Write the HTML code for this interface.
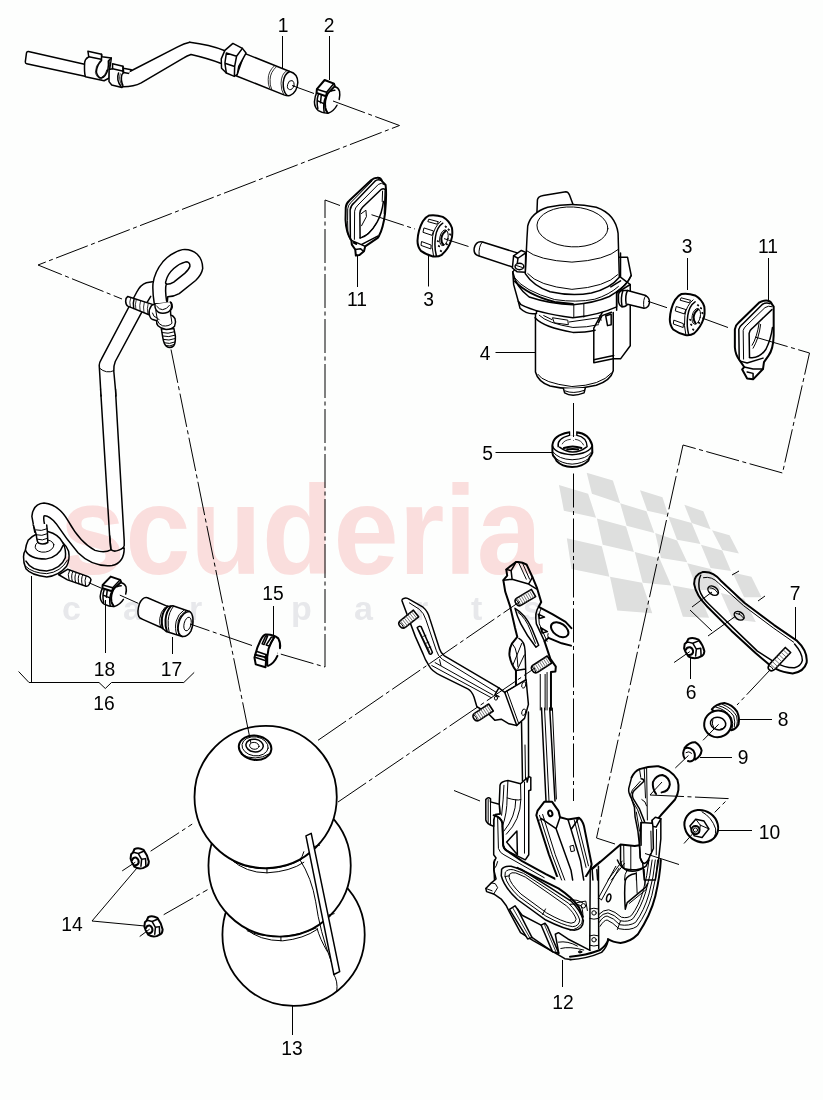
<!DOCTYPE html>
<html lang="en">
<head>
<meta charset="utf-8">
<title>Vacuum pump - parts diagram</title>
<style>
html,body{margin:0;padding:0;background:#fdfefd;}
body{width:823px;height:1100px;overflow:hidden;font-family:"Liberation Sans",sans-serif;}
svg{display:block;position:absolute;left:0;top:0;}
svg path,svg line,svg ellipse,svg circle,svg polyline,svg polygon,svg rect{vector-effect:non-scaling-stroke;fill:none;stroke:#000;stroke-width:1.5;stroke-linecap:round;stroke-linejoin:round;}
svg .w{fill:#fff;}
svg .t{stroke-width:1;}
svg .tt{stroke-width:0.8;}
svg .b{stroke-width:2;}
svg .k{fill:#000;}
svg .ld{stroke-width:1;stroke-linecap:butt;}
svg .dd{stroke-width:1;stroke-dasharray:34 3.5 4 3.5;stroke-linecap:butt;}
svg .flag polygon{fill:#e0e0e0;stroke:none;}
svg text.n{font-family:"Liberation Sans",sans-serif;font-size:20.5px;fill:#000;text-anchor:middle;}
svg text.wm{font-family:"Liberation Sans",sans-serif;font-weight:bold;font-size:126px;fill:#fcdfdf;}
svg text.cp{font-family:"Liberation Sans",sans-serif;font-weight:bold;font-size:34px;fill:#e9e9ed;}
</style>
</head>
<body>
<svg width="823" height="1100" viewBox="0 0 823 1100">
<!-- PARTS -->
<g id="parts">
<defs>
<g id="stud">
<path class="w" style="stroke-width:1.6" d="M0,-4.2 L17,-4.2 Q20.5,-4 20.5,0 Q20.5,4 17,4.2 L0,4.2 Z"/>
<path class="tt" style="stroke:#555" d="M2.4,-4 L2.4,4 M4.8,-4 L4.8,4 M7.2,-4 L7.2,4 M9.6,-4 L9.6,4 M12,-4 L12,4 M14.4,-4 L14.4,4 M16.8,-4 L16.8,4"/>
<path class="t" d="M18.4,-3.6 Q17.2,0 18.4,3.6"/>
</g>
</defs>
<!-- part 1: hose -->
<g transform="translate(76 44) scale(0.085055)">
<!-- hose left -->
<path class="w" d="M100,238 L-560,88 Q-578,86 -582,104 L-596,210 Q-597,228 -580,232 L105,378"/>
<!-- hose after clips -->
<path class="w" d="M640,338 L823,250 L823,418 Q700,485 560,492 Z" style="stroke:none"/>
<path d="M640,338 L823,250 M823,418 Q700,485 560,492"/>
<!-- clip 1 -->
<path class="w" d="M140,84 L300,120 L305,150 L415,165 L410,205 L395,300 L390,400 L330,432 L110,385 Q95,330 102,215 Q112,170 150,150 Z"/>
<path d="M150,150 L295,180 M300,120 L300,195 Q240,260 240,330 Q255,395 300,400 Q350,385 375,300 Q385,240 380,200 L415,165"/>
<path class="tt" d="M285,195 Q225,260 228,335 Q245,405 300,412 M362,305 Q345,370 305,388 M392,190 Q398,240 390,300"/>
<!-- clip 2 -->
<path class="w" d="M430,232 L552,262 L556,285 L650,302 L655,330 L625,347 L560,335 L540,360 Q520,420 555,495 L540,512 L420,482 L388,442 L390,300 L430,292 Z"/>
<path d="M430,292 L545,318 M552,262 L550,330 M500,340 Q470,420 530,500 M556,285 L560,335"/>
<path class="tt" d="M520,350 Q495,420 545,490"/>
</g>
<g transform="translate(10 10) scale(0.243)">
<path class="w" style="stroke:none" d="M495,252 L690,152 Q716,138 740,133 L745,183 Q728,188 715,197 L540,300 Q510,316 465,316 Z"/>
<path d="M495,252 L690,152 Q716,138 740,133 M745,183 Q728,188 715,197 L540,300 Q510,316 465,316"/>
</g>
<g transform="translate(195 30) scale(0.14582)">
<path class="w" style="stroke:none" d="M-36,84 Q100,100 205,142 L175,228 Q90,195 -27,168 Z"/>
<path d="M-36,84 Q100,100 205,142 M175,228 Q90,195 -27,168"/>
<!-- cylinder body -->
<path class="w" d="M340,160 L650,285 Q705,300 705,360 Q700,430 650,450 Q630,452 610,445 L285,315 Z"/>
<path d="M650,285 Q612,300 605,360 Q602,420 630,448"/>
<path class="tt" d="M628,280 Q592,300 590,365 Q590,415 608,442 M560,250 Q515,290 515,340 Q512,380 525,405 M545,245 Q500,285 502,340 Q500,375 512,398"/>
<ellipse class="w t" cx="657" cy="378" rx="22" ry="32" transform="rotate(15 657 378)"/>
<!-- hex nut -->
<path class="w" d="M205,140 L260,92 L325,126 L350,158 L300,250 L290,305 L270,318 L215,295 L182,262 L180,198 Z"/>
<path d="M215,158 L285,180 L325,126 M285,180 L272,250 L205,228 M272,250 L270,318 M215,158 L205,228 L215,295"/>
</g>
<!-- part 2: clamp -->
<g transform="translate(295 62) scale(0.09720)">
<g id="clamp">
<path class="w" style="stroke:none" d="M410,255 Q445,262 458,300 Q468,350 452,392 L430,445 Q400,505 340,528 Q290,530 240,500 Q200,470 200,410 Q205,350 222,318 Z"/>
<path d="M410,255 Q445,262 458,300 Q466,345 455,385 M432,445 Q400,505 340,528 Q290,530 240,500 Q200,470 200,410 Q205,350 222,318"/>
<path class="w b" d="M225,280 L305,185 L400,222 L410,248 L335,325 L318,352 L222,318 Z"/>
<path d="M225,280 L325,312 L400,222 M325,312 L318,352"/>
<path class="b" d="M335,325 Q300,400 312,470 Q318,500 335,522"/>
<path d="M318,352 Q285,420 300,520 M240,335 Q218,400 235,480 M270,345 L262,420 M235,400 L290,425 M410,290 Q385,290 370,300"/>
</g>
</g>
<!-- part 11 left grommet -->
<g transform="translate(320 165) scale(0.12151)">
<path class="w b" d="M470,105 Q500,100 512,135 L540,165 Q550,250 535,400 Q520,520 485,585 L475,600 L372,670 L362,710 L325,740 L295,745 L290,695 L262,655 L258,620 Q215,560 210,450 L212,350 Q215,315 240,295 L420,125 Q445,105 470,105 Z"/>
<path d="M250,612 L248,370 Q252,335 280,312 L450,135 Q475,112 505,128"/>
<path class="t" d="M283,612 L285,380 Q288,352 312,330 L480,160 Q505,140 528,160"/>
<path class="t" d="M230,570 Q225,450 228,360 Q232,328 255,308 L430,130"/>
<path d="M330,600 L328,395 Q330,368 350,348 L505,200 Q520,190 535,200"/>
<path d="M330,600 Q400,590 470,470 Q510,400 522,300"/>
<path class="t" d="M340,400 L378,372 L382,425 L342,500 M350,590 Q410,570 465,480 M535,200 L528,400 M515,215 L512,300"/>
<path d="M258,620 L340,655 L372,670 M340,655 L475,585 M290,695 L335,690 L355,708 M275,640 L300,652"/>
</g>
<!-- part 3 left nut -->
<g transform="translate(400 195) scale(0.09720)">
<g id="nut3">
<path class="w b" d="M300,210 Q370,200 440,225 Q510,265 535,340 Q545,420 525,470 Q500,550 430,615 Q390,640 340,632 Q270,615 215,575 Q180,530 180,470 Q185,360 235,270 Q265,225 300,210 Z"/>
<path d="M440,290 Q380,330 365,430 Q350,540 375,630"/>
<path class="t" d="M420,270 Q350,330 335,430 Q322,540 345,630"/>
<ellipse class="t" cx="452" cy="440" rx="42" ry="82" transform="rotate(12 452 440)"/>
<path class="b" d="M470,370 Q430,400 425,450 Q425,490 445,510"/>
<path class="t" d="M250,340 L345,370 L330,415 L240,385 Z M225,480 L320,515 L318,555 L220,520 Z M300,250 L395,275 L380,300 L290,275 Z"/>
<path class="k t" d="M470,320 l8,4 l-3,10 l-8,-4z M500,350 l8,4 l-3,10 l-8,-4z M515,400 l8,4 l-3,10 l-8,-4z M400,520 l8,4 l-3,10 l-8,-4z M420,570 l8,4 l-3,10 l-8,-4z M480,500 l8,4 l-3,10 l-8,-4z M390,470 l6,3 l-3,10 l-6,-3z"/>
</g>
</g>
<!-- part 4 pump -->
<g transform="translate(465 180) scale(0.243)">
<!-- back tab -->
<path class="w" d="M296,135 L298,82 Q300,68 322,64 L415,48 Q425,48 430,62 L445,102 Z"/>
<!-- motor cylinder -->
<path class="w" d="M290,540 L290,790 Q300,830 350,848 Q440,870 540,845 Q600,825 610,785 L610,540 Z"/>
<path class="w" d="M405,858 L410,876 Q440,895 490,876 L495,856"/>
<path class="t" d="M412,868 Q445,882 490,866 M300,800 Q320,835 440,850 Q560,845 602,795"/>
<!-- connector box -->
<path class="w" d="M530,610 L530,752 L610,736 L640,736 L680,682 L680,430 L600,480 Z"/>
<path d="M610,545 L610,736 M530,740 L612,722"/>
</g>
<g transform="translate(500 250) scale(0.18225)">
<!-- motor top -->
<path d="M192,372 Q240,425 400,452 Q470,452 522,440"/>
<path class="t" d="M215,358 Q260,402 400,425 Q480,425 540,410"/>
<path class="t" d="M290,372 L372,385 L375,410 L300,400 Z M240,360 L285,382 M380,395 L540,372 M545,360 L555,385"/>
<path d="M540,400 L560,360 L612,342 M580,362 L610,352 L610,410 L590,415 Z"/>
<!-- left lug -->
<path class="w" d="M100,280 L110,320 Q150,358 200,348 L200,330 Z"/>
<!-- flange -->
<path class="w" d="M70,120 L75,190 L100,280 L115,300 Q200,345 400,372 Q540,358 640,312 L640,230 Q700,190 720,140 L700,40 L140,40 Z"/>
<path d="M70,120 Q85,200 160,258 Q280,298 400,300 Q520,290 600,255 Q690,205 720,140"/>
<path class="b" d="M82,172 Q150,245 300,285 L400,296"/>
<path class="t" d="M78,150 Q130,225 300,272 Q420,290 520,270 Q600,245 650,200 M405,298 L405,370 M460,294 L460,368"/>
<path d="M640,230 L640,330"/>
<!-- right port -->
<path class="w" d="M650,245 Q655,222 675,222 L700,222 L800,250 Q822,262 820,290 Q815,318 790,320 L700,298 Q690,312 670,312 Q652,305 650,280 Z"/>
<path d="M700,222 Q685,250 692,296 M675,222 Q660,260 670,312"/>
<path class="t" d="M800,250 Q782,270 790,320"/>
</g>
<g transform="translate(465 180) scale(0.243)">
<!-- dome -->
<path class="w" d="M248,385 L255,240 L258,190 Q270,135 340,112 Q440,90 540,112 Q620,140 630,220 L635,400 Q600,445 520,465 Q440,480 350,460 Q280,435 248,385 Z"/>
<ellipse class="t" cx="442" cy="193" rx="146" ry="82" transform="rotate(3 442 193)"/>
<path class="t" d="M252,290 Q300,330 440,338 Q580,330 632,285 M258,385 Q300,435 440,450 Q580,440 628,390"/>
<path d="M640,300 L640,400 L660,415 L680,430 M600,440 L640,415"/>
<!-- left port -->
<path class="w" d="M215,300 L72,255 Q45,250 38,280 Q34,305 55,312 L195,358 Z"/>
<path class="t" d="M72,255 Q55,270 58,312"/>
<path class="w" d="M200,312 L232,290 L250,298 L248,380 L215,378 L195,362 Z"/>
<path d="M200,312 L218,322 L250,300 M218,322 L215,345"/>
<ellipse class="w" cx="224" cy="356" rx="18" ry="13"/>
<path class="t" d="M212,352 L236,360"/>
</g>
<!-- part 3 right nut -->
<use href="#nut3" transform="translate(252.3 78.6) translate(400 195) scale(0.09720)"/>
<!-- part 11 right grommet -->
<g transform="translate(660 270) scale(0.19805)">
<path class="w b" d="M545,155 Q560,158 565,172 L574,185 L574,330 Q572,400 548,432 L525,465 L520,500 L470,552 L440,548 L415,502 L425,490 L405,460 Q380,430 378,390 L378,300 Q380,280 395,268 L500,165 Q520,152 545,155 Z"/>
<path d="M400,455 L398,300 Q402,285 415,275 L515,175 Q535,162 555,170"/>
<path class="t" d="M422,450 L420,305 Q424,292 435,282 L530,190 Q548,178 565,185"/>
<path d="M452,442 L450,320 Q452,305 465,295 L565,200"/>
<path d="M452,442 Q500,450 535,400 Q560,350 568,290"/>
<path class="t" d="M500,270 Q490,340 465,380 M508,275 Q500,345 470,395"/>
<path d="M405,460 L440,470 L520,445 M425,490 L470,500 L520,500 M440,515 L470,522 L470,552"/>
</g>
<!-- part 5 seal -->
<g transform="translate(530 410) scale(0.10936)">
<path class="w b" d="M205,320 Q215,230 350,205 L365,203 L365,225 L425,225 L425,203 Q540,215 568,320 L570,390 Q560,420 545,432 L532,465 Q480,518 385,522 Q290,518 245,468 L230,440 Q205,420 205,390 Z" />
<path class="w" style="stroke:none" d="M368,190 L422,190 L422,235 L368,235 Z"/>
<path d="M205,330 Q230,400 385,410 Q540,400 568,330"/>
<path class="t" d="M212,385 Q260,450 385,455 Q520,450 562,385 M240,445 Q290,490 385,495 Q480,490 535,445"/>
<path d="M258,335 Q245,260 360,232 M430,232 Q520,250 522,335"/>
<path class="tt" d="M295,310 Q310,275 370,268 M415,268 Q470,275 490,320"/>
<path d="M270,340 Q330,385 390,385 Q460,385 515,340"/>
<path class="b" d="M310,348 Q390,318 470,348 M340,362 Q390,350 440,362"/>
</g>
<!-- pipe assembly -->
<g transform="translate(20 240) scale(0.243)">
<!-- long pipe upper -->
<path class="w" style="stroke:none" d="M332,617 L326,515 Q326,505 335,490 L480,215 Q495,185 520,176 L545,172 L545,235 L520,262 L392,500 Q384,520 386,540 L393,617 Z"/>
<path d="M332,617 L326,515 Q326,505 335,490 L480,215 Q495,185 520,176 L545,172 M393,617 L386,540 Q384,520 392,500 L520,262 L538,232"/>
<path class="t" d="M328,528 Q355,552 386,538"/>
<!-- loop pipe -->
</g>
<g transform="translate(130 240) scale(0.10936)">
<path class="w" d="M222,585 Q205,480 210,400 Q225,290 300,200 Q380,110 480,88 Q560,80 615,130 Q665,180 665,260 Q655,320 600,370 L450,490 Q400,518 345,520 L340,585 Z"/>
<path class="w" d="M335,560 Q318,450 332,400 Q320,400 330,370 Q345,310 400,260 Q450,215 510,200 Q550,200 548,240 Q540,270 500,305 L400,385 Q370,405 335,405"/>
</g>
<g transform="translate(10 390) scale(0.243)">
<!-- S-curve tube -->
<path class="w" d="M415,658 Q390,672 350,660 Q290,630 240,540 Q200,470 140,465 Q95,468 90,520 L102,585 L152,585 Q135,540 140,518 Q160,515 190,550 Q230,610 280,670 Q340,730 420,722 Q470,712 470,650 Z"/>
<!-- long pipe lower -->
<path class="w" d="M373,0 L410,600 L415,655 Q425,668 445,660 Q468,652 470,640 L470,620 L434,0" />
<path class="w" style="stroke:none" d="M372,-3 L435,-3 L436,20 L374,20 Z"/>
<path d="M373,-3 L375,25 M434,-3 L436,25"/>
<path d="M415,655 L410,600"/>
</g>
<g transform="translate(115 285) scale(0.085055)">
<!-- T fitting -->
<path class="w" d="M150,135 Q125,150 125,190 Q128,235 150,248 L400,350 L440,228 Z"/>
<path class="tt" d="M185,148 Q165,200 180,258 M250,170 Q232,225 245,285 M300,186 Q283,240 295,305 M345,202 Q328,256 340,322 M390,218 Q373,270 385,340"/>
<path d="M225,160 Q207,215 220,275"/>
<path class="w" d="M545,515 L562,620 Q575,700 605,722 Q650,750 690,715 Q712,690 710,600 L692,510 Z"/>
<path class="t" d="M555,560 Q620,580 700,550 M560,600 Q630,620 708,590 M568,640 Q630,660 708,630 M580,680 Q640,700 705,670 M595,712 Q645,728 695,700"/>
<path class="w" d="M430,240 Q395,290 402,335 Q410,390 435,402 L490,420 Q485,460 505,480 Q540,515 600,522 Q670,522 700,485 Q722,440 705,395 Q690,365 655,350 L652,300 Q690,260 660,205 L470,225 Z"/>
<path class="w" d="M470,225 Q465,290 510,320 Q560,345 620,320 Q660,300 665,250 Q668,220 650,200"/>
<path class="t" d="M490,250 Q520,290 560,290 Q610,285 640,240 M480,300 L500,420 Q510,460 560,480 Q630,490 670,450 L655,350 M440,330 Q450,380 500,390 L520,410"/>
</g>
<g transform="translate(15 525) scale(0.10936)">
<!-- valve 16 -->
<path class="w" d="M400,455 L480,502 L650,560 Q680,565 695,500 Q690,480 670,472 L480,405 Z"/>
<path class="t" d="M500,412 Q475,450 495,505 M530,425 Q508,460 525,518 M560,435 Q538,470 555,528 M590,446 Q568,482 585,538 M620,456 Q600,490 615,548 M650,467 Q632,500 645,558"/>
<path class="w" d="M95,230 Q80,250 78,290 Q75,340 100,400 Q150,460 290,475 Q400,465 470,380 Q505,320 490,240 Q470,190 440,165 Q400,85 300,60 Q180,70 120,140 Q100,180 95,230 Z"/>
<path d="M95,230 Q130,310 280,312 Q400,295 440,185 M440,165 Q470,230 460,300 Q420,400 290,420 Q150,420 100,330"/>
<path class="t" d="M100,380 Q160,440 290,445 Q420,430 480,320"/>
<ellipse class="t" cx="270" cy="192" rx="86" ry="56" transform="rotate(-8 270 192)"/>
<path class="w" d="M165,-10 L195,90 Q200,150 215,165 Q260,185 300,160 L296,60 L290,-10 Z" style="stroke:none"/>
<path d="M168,0 L195,90 Q200,150 215,165 Q260,185 300,160 L296,60 L290,0"/>
<path class="t" d="M190,45 Q240,60 292,35 M196,90 Q245,105 296,80 M202,130 Q250,148 298,122"/>
</g>
<!-- part 18 clamp -->
<use href="#clamp" transform="translate(100.2 576.6) scale(0.1 0.0875) translate(-200 -185)"/>
<!-- part 17 connector -->
<g transform="translate(90 585) scale(0.13366)">
<path class="w" d="M430,95 Q395,85 370,140 Q350,200 365,235 Q372,250 390,255 L540,322 L570,348 L690,385 Q730,388 755,345 Q775,300 770,250 Q765,210 745,198 L620,155 L580,160 Z"/>
<path class="b" d="M580,160 Q545,190 538,250 Q535,300 545,325 M605,160 Q570,195 565,260 Q562,310 575,345"/>
<path class="t" d="M560,168 Q528,200 522,250 Q518,290 528,315 M625,160 Q590,200 585,265 Q582,315 592,352"/>
<path d="M745,198 Q700,200 672,260 Q650,320 665,360 Q675,380 690,385"/>
<path class="t" d="M720,195 Q678,215 660,270 Q645,330 665,375 M700,190 Q660,215 645,270 Q632,330 650,372"/>
<ellipse class="t" cx="730" cy="292" rx="26" ry="52" transform="rotate(14 730 292)"/>
</g>
<!-- part 15 clamp -->
<g transform="translate(240 615) scale(0.085055)">
<path class="w" style="stroke:none" d="M300,230 Q390,225 450,275 Q480,330 470,390 L440,480 Q400,570 330,600 L300,615 L185,580 L170,500 L180,465 Q200,380 240,300 Q270,240 300,230 Z"/>
<path class="b" d="M470,390 Q480,330 450,275 Q390,225 300,230 Q270,240 240,300 Q200,380 180,465 M440,480 Q400,570 330,598"/>
<path class="w b" d="M180,468 L170,500 L185,580 L300,615 L308,520 L292,495 Z"/>
<path d="M200,430 L312,468 L292,495 M312,468 L308,520 M185,500 L295,535"/>
<path class="b" d="M400,265 Q360,320 335,400 Q315,480 320,590"/>
<path d="M260,340 L300,250 Q310,240 325,245 L282,348 Z M308,352 L368,262 Q385,255 400,265 L345,365 Z"/>
</g>
<!-- part 13 reservoir -->
<g transform="translate(180 720) scale(0.26350)">
<circle class="w" style="stroke-width:1.8" cx="431" cy="815" r="270"/>
<path class="t" d="M583,965 Q600,990 595,1030"/>
<circle class="w" style="stroke-width:1.8" cx="378" cy="552" r="270"/>
<path class="t" d="M250,792 Q300,838 390,838 Q470,830 520,795 M255,800 Q300,822 385,822 Q460,815 515,790 M383,822 L383,838"/>
<circle class="w" style="stroke-width:1.8" cx="325" cy="292" r="270"/>
<path class="t" d="M195,530 Q250,580 330,580 Q420,575 470,540 M205,538 Q260,565 330,565 Q410,560 462,528 M330,565 L330,580"/>
<!-- fin -->
<path class="t" d="M455,530 Q500,600 515,690 Q530,800 575,920 M470,500 Q465,520 455,530 M520,790 Q530,830 560,880 M565,740 L585,735 M510,480 L530,475"/>
<path class="w" d="M478,440 L498,430 L606,955 L584,966 Z"/>
<!-- port -->
<ellipse class="w b" cx="285" cy="105" rx="62" ry="46" transform="rotate(8 285 105)"/>
<ellipse class="t" cx="285" cy="100" rx="50" ry="36" transform="rotate(8 285 100)"/>
<ellipse cx="283" cy="97" rx="33" ry="24" transform="rotate(8 283 97)"/>
<ellipse class="t" cx="282" cy="98" rx="18" ry="13" transform="rotate(8 282 98)"/>
<path class="t" d="M232,130 Q285,160 340,128"/>
</g>
<!-- main bracket top -->
<g transform="translate(480 550) scale(0.19440)">
<path class="w" style="stroke:none" d="M135,100 L185,62 Q215,58 240,75 L270,140 L292,192 L315,268 L302,292 L372,330 L440,370 L470,402 L472,490 L420,480 L352,452 L332,470 L362,560 L390,600 L388,625 L365,628 L365,823 L185,823 L185,620 Q160,590 152,545 Q148,510 165,480 L192,447 L180,400 L155,290 L130,215 L120,155 L140,132 Z"/>
<path class="b" d="M365,823 L365,628 L388,625 L390,600 L362,560 L332,470 L352,452 L420,480 L468,492 M470,402 L440,370 L372,330 L302,292 L315,268 L292,192 L270,140 L240,75 Q215,58 185,62 L135,100 L140,132 L120,155 L130,215 L155,290 L180,400 L192,447 L165,480 Q148,510 152,545 Q160,590 185,620 L185,823"/>
<path d="M135,100 L160,106 L185,62 M160,106 L165,150 M120,155 L165,150 L250,175 L270,140 M250,175 L290,200"/>
<path class="t" d="M200,68 L238,150 M218,66 L255,150"/>
<path d="M180,300 Q232,330 265,400 L302,490 L288,500 Q240,440 210,380 Q190,340 180,300 Z"/>
<path class="t" d="M195,320 Q235,350 258,410 L285,480"/>
<ellipse class="b" cx="410" cy="410" rx="50" ry="32" transform="rotate(35 410 410)"/>
<path d="M300,330 L332,345 L306,352 Z M312,400 L347,420 L320,427 Z"/>
<path d="M302,292 Q280,320 290,380 L332,470"/>
<path class="t" d="M315,300 Q298,330 305,380 L345,470 M352,452 Q345,440 350,430"/>
<path d="M200,455 Q230,470 232,520 L235,620 L235,823 M185,620 L235,612"/>
<path class="t" d="M165,480 Q185,500 190,540 L195,600 M215,480 L170,590 M228,540 L195,610 M310,640 L310,823 M345,630 L345,823 M335,640 L335,823"/>
</g>
<use href="#stud" transform="translate(533.5 593) rotate(149.3)"/>
<use href="#stud" transform="translate(549.5 659.5) rotate(147)"/>
<!-- left bracket -->
<g transform="translate(390 580) scale(0.19440)">
<path class="w" d="M70,95 Q85,88 100,100 L170,140 Q195,160 205,200 L255,355 Q262,378 280,390 L560,555 L590,578 L700,512 L712,640 L692,712 L652,748 L612,740 L572,716 L540,722 L500,682 L447,652 L432,602 Q420,570 400,560 L262,492 Q215,470 200,440 Q180,410 170,380 L130,290 L62,108 Q60,98 70,95 Z"/>
<path d="M140,245 Q150,235 160,240 L218,372 Q212,385 203,380 Z"/>
<path class="tt" d="M150,260 L205,372 M170,290 L185,285 M185,325 L200,320 M195,350 L210,345"/>
<path class="t" d="M100,118 L150,150 Q175,170 185,205 L238,362 Q248,395 270,408 L545,577 M232,425 L530,592 M255,410 L262,440 M215,440 L520,605"/>
<path d="M590,578 L652,748 M560,555 L540,590 L560,600"/>
<path class="t" d="M602,572 L662,738 M590,578 L620,560 L640,548"/>
<ellipse class="t" cx="688" cy="540" rx="10" ry="17" transform="rotate(15 688 540)"/>
<ellipse class="t" cx="688" cy="680" rx="10" ry="17" transform="rotate(15 688 680)"/>
<ellipse class="t" cx="545" cy="608" rx="8" ry="10"/>
</g>
<use href="#stud" transform="translate(416 613.5) rotate(141.5)"/>
<use href="#stud" transform="translate(491 707.5) rotate(146.5)"/>
<!-- main bracket lower -->
<g>
<path d="M541.5,708 L546,801 M549.7,708 L555,801"/>
<path class="t" d="M552.4,708 L556.4,799 M544.5,708 L549,801"/>
<path d="M521.5,722 L522.5,781 M528.4,712 L528.6,777"/>
<path class="t" d="M525,745 L525.5,780"/>
</g>
<g transform="translate(470 760) scale(0.15795)">
<path class="w" d="M190,160 Q195,135 240,130 L320,150 L360,115 L362,140 L370,105 L385,110 L385,190 L372,195 L372,600 L350,632 L235,575 Q215,565 210,540 L205,400 Q195,360 150,350 L160,345 L190,340 L185,280 Z"/>
<path d="M190,340 L160,345 Q148,360 150,380 L150,600 L165,620 L150,650 L155,760"/>
<path class="w" d="M185,280 L130,265 L130,245 Q115,230 100,250 L100,380 Q105,405 150,420 L150,380 L160,345 L190,340 Z"/>
<path class="t" d="M130,265 L130,405 M115,250 L115,395"/>
<path class="t" d="M215,160 Q212,250 200,350 M240,132 L235,240 Q300,260 322,250 L320,150 M235,240 Q235,340 205,420 M322,250 Q320,380 230,470 M290,250 Q290,360 215,450 M345,140 L345,590"/>
<path class="b" d="M150,350 Q195,360 205,400 L210,540 Q215,565 235,575 L330,640 L480,722 L545,755"/>
<path d="M232,520 L297,450 L300,600 Z"/>
<path class="t" d="M175,370 L180,560 Q190,590 215,600 L330,665 L470,745"/>
<!-- central lower arm -->
<path class="w b" d="M470,265 L520,265 L560,322 L570,362 L620,376 L690,366 Q712,380 722,420 L770,660 L762,692 L720,760 L560,760 L500,600 L420,350 L428,320 Z"/>
<path class="w" style="stroke:none" d="M540,740 L740,740 L740,775 L540,775 Z"/>
<path d="M450,370 L545,435 L570,362 M545,435 L640,700 L650,760 M620,376 L640,440 L700,640 L720,760 M640,440 L690,366"/>
<path class="t" d="M440,350 L520,600 L580,760 M460,345 L540,600 L600,760 M660,380 L735,680 M675,372 L750,670"/>
<ellipse class="b" cx="508" cy="338" rx="13" ry="18" transform="rotate(-20 508 338)"/>
<path class="t" d="M635,545 L655,540 L662,575 L642,580 Z M440,380 L470,375"/>
</g>
<g transform="translate(470 860) scale(0.15795)">
<path d="M155,0 L150,60 L165,120 L135,145 L100,180 L105,200 L150,215 L200,250 L230,290 L250,330 L320,460 L400,510 L560,600 L600,625 L640,630"/>
<path class="t" d="M135,145 L160,150 L175,175 L150,215 M100,180 L140,195 M150,60 Q170,40 175,10"/>
<path d="M200,60 Q215,35 260,40 L330,62 L500,170 L640,260 Q700,320 718,385 Q715,440 660,445 Q600,440 480,380 L300,250 Q215,170 198,100 Z"/>
<path class="t" d="M225,75 Q240,55 275,62 L340,85 L500,190 L625,275 Q680,330 695,380 Q690,420 650,422 Q590,415 480,355 L310,232 Q235,160 222,105 Z"/>
<path class="t" d="M250,90 Q262,75 290,82 L350,108 L500,212 L610,290 Q660,335 672,375 Q668,400 640,400 Q585,392 485,335 L322,215 Q255,150 248,112 Z M460,345 L478,310 M222,105 L250,100"/>
<path class="b" d="M300,50 L560,180 Q650,240 690,300 L715,360"/>
<path class="w" d="M250,312 L285,290 L300,310 L392,490 L365,500 Z"/>
<path class="tt" d="M270,302 L380,495"/>
<path class="w" d="M450,412 L475,400 L490,420 L562,590 L522,580 Z"/>
<path class="tt" d="M470,406 L546,586"/>
<path d="M300,310 L330,350 L450,412 M392,490 L522,580"/>
<path d="M540,470 L560,460 L620,500 L760,572 M540,470 L562,590"/>
<path class="t" d="M560,520 Q620,510 680,545 M575,560 Q630,545 720,570"/>
<ellipse class="t" cx="695" cy="582" rx="9" ry="5"/>
</g>
<g transform="translate(570 760) scale(0.15795)">
<!-- right ear -->
<path class="b" d="M390,110 Q410,70 440,58 Q500,38 560,40 Q640,60 680,125 Q700,190 665,250 L575,350 L548,382"/>
<path class="b" d="M545,215 Q520,180 525,140 Q545,95 585,95 Q630,110 632,155 Q625,200 580,205"/>
<path d="M390,110 L372,180 Q368,210 390,245 L408,300 L412,360 L430,450 L440,540"/>
<path class="t" d="M440,58 L448,110 M485,50 L490,380 M470,55 L478,240"/>
<path d="M450,118 Q468,118 468,135 L405,195 Q388,215 400,245 L440,310 L472,390"/>
<path class="t" d="M445,135 L395,190 Q375,215 390,250 L428,315 L455,390 M420,330 L440,450 M455,250 Q480,260 485,290"/>
<path class="w" d="M520,382 L540,362 L575,372 L575,500 L560,640 L540,760 L470,760 L460,650 L445,620 L440,540 L450,395 L520,400 Z"/>
<path d="M520,382 L525,420 L528,560 L510,600 M450,395 L450,540 M525,420 L545,425 L575,372"/>
<path class="t" d="M512,450 L515,580 M548,440 L546,600"/>
<!-- lower plate -->
<path class="b" d="M140,690 L320,535 L410,545 L440,540"/>
<path d="M440,540 L445,620 Q450,650 470,655 Q495,650 510,595 M320,540 L320,640 Q325,680 360,700 Q420,715 470,680 M140,690 L145,760 M170,695 L175,760"/>
<path class="t" d="M385,545 L385,700 M340,540 L342,680 M330,640 L240,760 M345,655 L262,760 M360,700 Q345,720 345,760 M420,712 L420,760"/>
</g>
<g transform="translate(570 860) scale(0.15795)">
<path class="b" d="M575,0 Q570,100 540,230 Q510,350 430,470 Q380,520 320,525 Q270,520 240,500"/>
<path class="b" d="M0,612 Q100,605 190,570 Q230,540 242,505"/>
<path d="M0,632 Q110,625 200,585 Q235,550 242,505"/>
<path class="t" d="M520,0 Q510,100 480,200 Q450,300 400,370 Q370,395 320,385 Q280,345 240,335 Q210,335 180,370 M500,0 Q490,100 462,200 Q435,290 390,350 Q365,372 325,362 Q285,325 245,315 Q210,315 182,345 M540,0 Q530,110 500,215 Q470,320 415,395 Q375,420 315,410 Q275,365 235,355 Q210,355 185,395 M555,0 Q548,110 518,225 Q488,335 425,420 Q380,450 310,435 Q270,395 235,380 Q215,380 190,420 M320,385 L300,440"/>
<path d="M128,60 L125,570 M180,40 L182,560 M128,60 L190,10"/>
<path class="t" d="M125,310 Q150,300 180,310 M125,370 Q150,380 180,370 M125,480 Q150,470 180,480 M125,540 Q150,550 180,540"/>
<circle class="t" cx="152" cy="335" r="14"/>
<circle class="t" cx="152" cy="505" r="14"/>
<path d="M350,312 Q342,200 350,130 Q360,95 415,85 M350,312 L362,270 L480,172 L492,150"/>
<path class="t" d="M375,275 L485,185 M420,90 L425,210 M470,60 L475,160"/>
<ellipse cx="245" cy="240" rx="13" ry="25" transform="rotate(15 245 240)"/>
<path class="t" d="M180,240 L290,40 M200,252 L310,52 M180,240 L200,252"/>
<path d="M300,0 Q320,45 345,55 Q420,75 480,40 L500,0"/>
<path class="t" d="M0,280 Q40,270 70,290 Q90,330 75,400 Q50,440 0,445 M0,250 Q50,250 80,270 M45,270 L100,260 L110,320"/>
<circle class="t" cx="85" cy="290" r="14"/>
<ellipse class="t" cx="65" cy="582" rx="10" ry="6"/>
</g>
<!-- part 7 plate -->
<g transform="translate(670 560) scale(0.18591)">
<path class="w b" d="M130,130 Q128,80 175,65 Q230,58 272,110 L400,230 L560,350 L680,432 Q742,490 735,552 Q720,602 660,610 Q610,606 570,586 L530,560 L460,500 L330,380 L200,250 Q140,190 130,130 Z"/>
<path d="M165,82 Q150,110 158,160 Q170,200 210,238 L340,365 L470,490 L560,548 Q620,582 670,580 Q705,570 712,540 Q712,500 670,452"/>
<path class="t" d="M180,95 Q225,85 262,125 L395,245 L555,365 L665,442"/>
<ellipse class="w" cx="232" cy="165" rx="31" ry="21" transform="rotate(35 232 165)"/>
<ellipse class="w" cx="372" cy="300" rx="29" ry="20" transform="rotate(35 372 300)"/>
<path class="t" d="M215,150 Q240,150 255,175 M355,288 Q380,288 395,312"/>
</g>
<use href="#stud" transform="translate(788 650) rotate(133.3) scale(1.33 0.88)"/>
<!-- part 6 nut -->
<g transform="translate(665 625) scale(0.072902)" id="nut6">
<path class="w b" d="M320,190 Q380,160 460,200 Q520,270 540,360 Q535,410 510,422 L450,450 Q380,468 320,430 L280,365 L262,320 L270,260 L300,235 Z"/>
<path d="M300,235 L320,235 L380,250 L430,330 L420,425 M380,250 L470,215 M430,330 L490,320 L495,420"/>
<path class="w b" d="M285,340 Q300,300 345,305 Q390,325 385,375 Q370,415 325,410"/>
<path class="t" d="M320,190 Q300,210 300,235"/>
</g>
<!-- part 8 bushing, 9 sleeve -->
<g transform="translate(670 700) scale(0.09720)">
<path class="w b" d="M430,95 Q470,40 560,30 Q640,45 690,120 Q720,190 705,250 Q680,300 630,312 L430,95 Z"/>
<path class="t" d="M500,58 Q600,85 655,165 Q675,230 662,275 M540,45 Q640,85 685,165 Q700,230 688,262 M470,72 Q570,95 632,180 Q655,245 640,295"/>
<ellipse class="w b" cx="492" cy="246" rx="142" ry="136" transform="rotate(-30 492 246)"/>
<ellipse cx="495" cy="242" rx="80" ry="64" transform="rotate(15 495 242)"/>
<path class="t" d="M440,200 Q425,250 450,285 M520,300 Q560,300 570,265"/>
<path class="w b" d="M150,492 Q200,432 262,435 Q312,465 325,520 Q318,575 262,612 Z"/>
<path class="w b" d="M150,600 Q120,545 152,498 Q195,478 240,520 Q270,570 245,615 Q215,640 185,628"/>
<path class="t" d="M165,540 Q195,520 222,548"/>
</g>
<!-- part 10 nut -->
<g transform="translate(670 790) scale(0.09720)">
<ellipse class="w b" cx="322" cy="372" rx="180" ry="160" transform="rotate(35 322 372)"/>
<path class="t" d="M330,225 Q430,280 470,400 Q475,450 455,490"/>
<path class="w" d="M205,370 L265,300 L350,320 L400,400 L330,488 L250,472 Z"/>
<path class="t" d="M265,300 L312,362 L400,400 M312,362 L300,440"/>
<circle class="w b" cx="262" cy="412" r="42"/>
<circle class="t" cx="262" cy="412" r="22"/>
</g>
<!-- part 14 nuts -->
<use href="#nut6" transform="translate(130.5 847.5) scale(0.9 1) translate(-684 -637.2)"/>
<use href="#nut6" transform="translate(144.3 915.5) scale(0.9 1) translate(-684 -637.2)"/>
</g>
<!-- LEADERS -->
<g id="leaders">
<!-- dash-dot lines -->
<g>
<path class="dd" d="M292,85.5 L314,93.5 M333,101 L399.5,125.5 L38,265 L122,299"/>
<path class="dd" d="M340,205.5 L325,200 L325,667 L277,653"/>
<path class="dd" d="M252,645.5 L190,624"/>
<path class="dd" d="M371.5,214.7 L415,229 M444,238.6 L468.5,246.5"/>
<path class="dd" d="M171,349.5 L251.5,746"/>
<path class="dd" d="M648,301.3 L667,307.7 M702,318 L728,327.5 M755,337 L809.5,353 L782.5,473 L683,445 L596.5,838 L615,844"/>
<path class="dd" d="M573.5,403 L573.5,441 M573.5,473.5 L573.5,801"/>
<path class="dd" d="M88.8,582.7 L101.2,588.1 M119.8,595.1 L138.4,603.4"/>
<path class="dd" d="M318,740.3 L520,601.5 M338,802 L535,668"/>
<path class="dd" d="M150.6,851.2 L192.2,824.1 M163.7,914.7 L207.5,889.7"/>
<path class="ld" d="M122.2,870.9 L135.3,862.2 M139.7,936.5 L149.7,929.1"/>
<path class="dd" d="M770,670 L737,705 M718.6,724.3 L703,740.3 M688.5,755.4 L675.3,768 M650,795 L728.3,798.6 L714.7,812.4 M695.3,830.8 L684,843.5 M674.1,662.5 L689.8,651.6"/>
<path class="dd" d="M692,607 L712,592 M708,636 L740,613 M690,610 L712,631 M732,575 L739,571 M758,601 L765,596"/>
</g>
<!-- leaders -->
<g>
<path class="ld" d="M282.5,36 L282.5,68 M329.5,36 L329.5,80 M357.5,256 L357.5,287 M428.5,254.5 L428.5,286.5 M687.5,258 L687.5,290 M768.5,258 L768.5,300 M495.5,352.5 L536,352.5 M495.500,452.5 L553,452.5 M795.5,607 L795.5,640 M690.5,658 L690.5,679 M739,719.5 L772,719.5 M700,757.5 L732,757.5 M718.6,830.5 L752,830.5 M562.5,960 L562.5,987 M292.5,1005 L292.5,1035 M273.5,606 L273.5,640 M172.5,637 L172.5,654 M105.5,600 L105.5,653 M31.5,576 L31.5,682"/>
<path class="ld" d="M92,921 L137,868 M92,921 L145,926"/>
<path class="ld" d="M18.6,671.5 L29,682.5 L99,682.5 L105.3,688.5 L111.5,682.5 L183.8,682.5 L194.2,672.4"/>
<path class="ld" d="M454,790.5 L480,801 M679,864.5 L645,853.5 M650,795 L662,782"/>
</g>
</g>
<!-- LABELS -->
<g id="labels">
<text class="n" transform="translate(283 32) scale(0.94 1)">1</text>
<text class="n" transform="translate(329 32) scale(0.94 1)">2</text>
<text class="n" transform="translate(357 305.5) scale(0.94 1)">11</text>
<text class="n" transform="translate(428.5 305.5) scale(0.94 1)">3</text>
<text class="n" transform="translate(687 252.5) scale(0.94 1)">3</text>
<text class="n" transform="translate(768 252.5) scale(0.94 1)">11</text>
<text class="n" transform="translate(485 359.5) scale(0.94 1)">4</text>
<text class="n" transform="translate(487.5 460) scale(0.94 1)">5</text>
<text class="n" transform="translate(795 600) scale(0.94 1)">7</text>
<text class="n" transform="translate(691 699) scale(0.94 1)">6</text>
<text class="n" transform="translate(783 725.5) scale(0.94 1)">8</text>
<text class="n" transform="translate(743 763.5) scale(0.94 1)">9</text>
<text class="n" transform="translate(769.5 838.5) scale(0.94 1)">10</text>
<text class="n" transform="translate(563 1008.5) scale(0.94 1)">12</text>
<text class="n" transform="translate(292 1055) scale(0.94 1)">13</text>
<text class="n" transform="translate(72 931) scale(0.94 1)">14</text>
<text class="n" transform="translate(273 599.5) scale(0.94 1)">15</text>
<text class="n" transform="translate(104 709.5) scale(0.94 1)">16</text>
<text class="n" transform="translate(171.5 676.3) scale(0.94 1)">17</text>
<text class="n" transform="translate(104.5 676.3) scale(0.94 1)">18</text>
</g>
<!-- WATERMARK -->
<g id="watermark" style="mix-blend-mode:multiply">
<text class="wm" x="60" y="573.6" textLength="482" lengthAdjust="spacingAndGlyphs">scuderia</text>
<text class="cp" y="620" x="62 123 189 250 291 354 415 471 523">car parts</text>
<g class="flag" transform="translate(540 450) scale(0.29162)">
<polygon points="65,120 165,150 192,232 82,208"/>
<polygon points="92,303 212,330 238,435 108,408"/>
<polygon points="160,78 250,105 275,183 178,150"/>
<polygon points="195,235 295,262 322,350 215,325"/>
<polygon points="240,435 350,455 385,560 265,550"/>
<polygon points="275,183 365,210 392,285 297,260"/>
<polygon points="325,350 410,372 450,465 352,455"/>
<polygon points="343,138 420,162 440,225 368,208"/>
<polygon points="395,285 470,310 505,385 415,370"/>
<polygon points="455,465 540,480 580,575 490,572"/>
<polygon points="440,228 520,250 550,322 470,308"/>
<polygon points="505,388 585,408 620,480 540,480"/>
<polygon points="495,188 560,210 585,272 520,250"/>
<polygon points="552,325 625,345 655,415 585,405"/>
<polygon points="620,490 700,510 740,590 660,580"/>
<polygon points="590,275 650,292 682,355 625,343"/>
<polygon points="660,420 725,435 760,505 700,505"/>
</g>
</g>
</svg>
</body>
</html>
